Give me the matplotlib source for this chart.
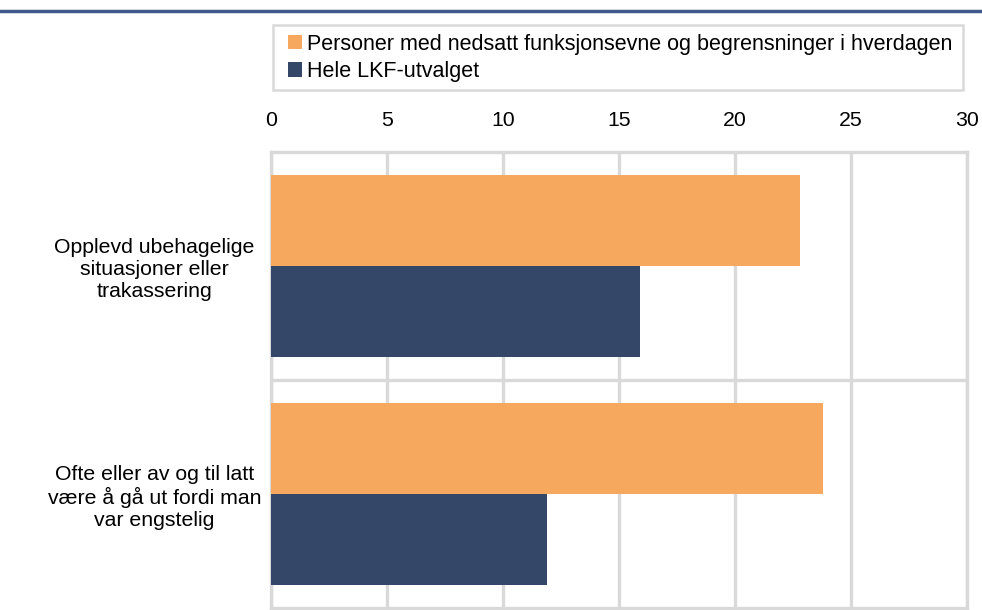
import matplotlib
matplotlib.use("Agg")
import matplotlib.pyplot as plt
from matplotlib.patches import Patch, Rectangle
from matplotlib.lines import Line2D

plt.rcParams['font.family'] = ['Liberation Sans', 'DejaVu Sans']

categories = ["Opplevd ubehagelige\nsituasjoner eller\ntrakassering",
              "Ofte eller av og til latt\nvære å gå ut fordi man\nvar engstelig"]
series_names = ["Personer med nedsatt funksjonsevne og begrensninger i hverdagen",
                "Hele LKF-utvalget"]
values_disabled = [22.8, 23.8]
values_all = [15.9, 11.9]
xticks = [0, 5, 10, 15, 20, 25, 30]

c_orange = "#F6A95E"
c_navy = "#344768"
c_grid = "#D9D9D9"

W, H = 982, 610
fig = plt.figure(figsize=(W/100, H/100), dpi=100)

left, right, top, bottom = 271, 967, 152, 608
ax = fig.add_axes([left/W, 1 - bottom/H, (right-left)/W, (bottom-top)/H])

n = len(categories)
bh = 0.4
for i in range(n):
    ax.barh(i - bh/2, values_disabled[i], height=bh, color=c_orange, zorder=3)
    ax.barh(i + bh/2, values_all[i], height=bh, color=c_navy, zorder=3)

ax.set_xlim(0, 30)
ax.set_ylim(n - 0.5, -0.5)
ax.set_xticks(xticks)
ax.set_xticklabels([str(t) for t in xticks], fontsize=15.3)
ax.xaxis.tick_top()
ax.tick_params(axis='x', length=0, pad=16)
ax.set_yticks(range(n))
ax.set_yticklabels(categories, fontsize=15.3, ha='center', linespacing=1.2)
ax.tick_params(axis='y', length=0, pad=84)

for t in xticks:
    ax.axvline(t, color=c_grid, lw=2.4, zorder=1)
for b in [0.5]:
    ax.axhline(b, color=c_grid, lw=2.4, zorder=1)
for s in ax.spines.values():
    s.set_color(c_grid)
    s.set_linewidth(2.4)

handles = [Patch(facecolor=c_orange, edgecolor='none'), Patch(facecolor=c_navy, edgecolor='none')]
leg = fig.legend(handles, series_names, loc='upper left',
                 bbox_to_anchor=(279/W, 1 - 25/H), fontsize=15.5,
                 frameon=False, handlelength=0.65, handleheight=0.65,
                 handletextpad=0.25, borderpad=0.4, labelspacing=0.3, borderaxespad=0)
fig.add_artist(Rectangle((273/W, 1 - 90/H), (963-273)/W, 65/H, transform=fig.transFigure,
                         facecolor='none', edgecolor=c_grid, lw=1.8))

fig.add_artist(Line2D([0, 1], [1 - 11/H, 1 - 11/H], color="#3D5A8A", lw=2.5,
                      transform=fig.transFigure))

fig.savefig("out.png", dpi=100)
